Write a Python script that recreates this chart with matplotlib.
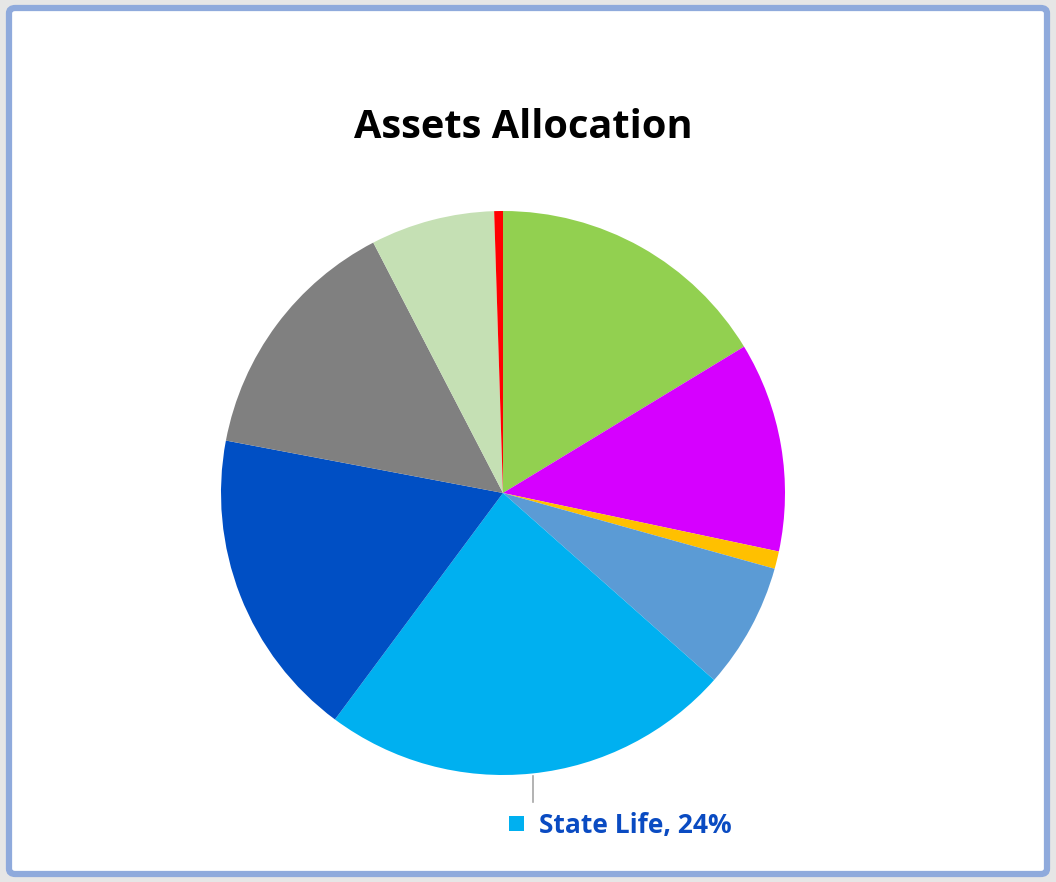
import matplotlib.pyplot as plt
from matplotlib.patches import FancyBboxPatch, Rectangle

# slice shares, clockwise from 12 o'clock
shares = [16.3, 12.0, 1.0, 7.2, 23.6, 17.8, 14.4, 7.1, 0.5]
colors = ['#92D050', '#D600FF', '#FFC000', '#5B9BD5', '#00B0F0',
          '#004FC4', '#808080', '#C5E0B4', '#FF0000']
label_idx = 4
label_text = 'State Life, 24%'
title = 'Assets Allocation'

W, H = 1056, 882
fig = plt.figure(figsize=(W / 100, H / 100), dpi=100)
fig.patch.set_facecolor('#E6E6E6')

# white chart area with blue rounded frame
frame = FancyBboxPatch((9 / W, 8 / H), (W - 18) / W, (H - 16) / H,
                       boxstyle='round,pad=0,rounding_size=0.006',
                       transform=fig.transFigure, facecolor='white',
                       edgecolor='#8FAADC', linewidth=4.5, zorder=-1)
fig.patches.append(frame)

cx, cy, r = 503, 493, 282
ax = fig.add_axes([(cx - r) / W, 1 - (cy + r) / H, 2 * r / W, 2 * r / H])
ax.pie(shares, colors=colors, startangle=90, counterclock=False, radius=1,
       wedgeprops=dict(linewidth=0))
ax.set_xlim(-1, 1)
ax.set_ylim(-1, 1)
ax.set_aspect('equal')
ax.axis('off')

fig.text(523 / W, 1 - 128 / H, title, ha='center', va='center',
         fontsize=28.6, fontweight='bold', family='Open Sans', color='black')

# leader line and data label for State Life
fig.lines.append(plt.Line2D([533 / W, 533 / W], [1 - 776 / H, 1 - 802 / H],
                            transform=fig.transFigure, color='#A6A6A6', lw=1.2))
fig.patches.append(Rectangle((509 / W, 1 - 831 / H), 15 / W, 15 / H,
                             transform=fig.transFigure,
                             facecolor=colors[label_idx], edgecolor='none'))
fig.text(539 / W, 1 - 825 / H, label_text, ha='left', va='center',
         fontsize=19, fontweight='bold', family='Open Sans', color='#0A4BC2')

fig.savefig('out.png', dpi=100, facecolor=fig.get_facecolor())
